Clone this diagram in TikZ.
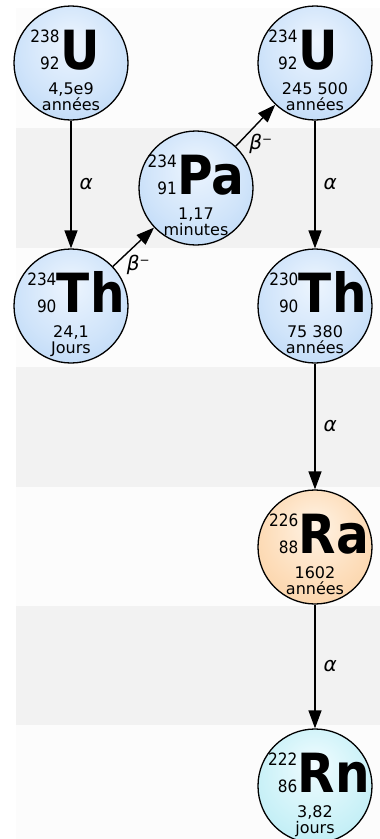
\documentclass[tikz,border=0pt]{standalone}
\usepackage{fontspec}
\setmainfont{DejaVu Sans}
\newfontfamily\condfont{DejaVu Sans Condensed}
\usetikzlibrary{arrows.meta}

% band colours
\definecolor{bandgrey}{HTML}{F2F2F2}
\definecolor{bandlight}{HTML}{FCFCFC}

% ball fills: light centre, saturated rim
\definecolor{bluein}{HTML}{EDF5FE}
\definecolor{bluemid}{HTML}{D0E4FA}
\definecolor{blueout}{HTML}{A2C8F1}
\definecolor{orangein}{HTML}{FFF3E5}
\definecolor{orangemid}{HTML}{FDDDBA}
\definecolor{orangeout}{HTML}{F6C289}
\definecolor{cyanin}{HTML}{F0FCFF}
\definecolor{cyanmid}{HTML}{CDF2F8}
\definecolor{cyanout}{HTML}{A2E2EE}

\pgfdeclareradialshading{ballblue}{\pgfpoint{0bp}{10bp}}{%
  color(0bp)=(bluein); color(22bp)=(bluemid); color(50bp)=(blueout)}
\pgfdeclareradialshading{ballorange}{\pgfpoint{0bp}{10bp}}{%
  color(0bp)=(orangein); color(22bp)=(orangemid); color(50bp)=(orangeout)}
\pgfdeclareradialshading{ballcyan}{\pgfpoint{0bp}{10bp}}{%
  color(0bp)=(cyanin); color(22bp)=(cyanmid); color(50bp)=(cyanout)}

% mass number over atomic number, right aligned, then the element symbol
\newcommand\isotope[3]{%
  {\condfont\fontsize{17}{27}\selectfont\vbox{\halign{\hfil##\cr#1\cr#2\cr}}}%
  \kern0.5pt{\condfont\bfseries\fontsize{54}{54}\selectfont#3}}

\tikzset{
  ball/.style={circle, draw=black, line width=1.3pt, minimum size=114pt, inner sep=0pt},
  blueball/.style={ball, shading=ballblue},
  orangeball/.style={ball, shading=ballorange},
  cyanball/.style={ball, shading=ballcyan},
  life/.style={font=\fontsize{16}{16}\selectfont, inner sep=0pt},
  decay/.style={line width=1.4pt, -{Triangle[length=18pt,width=13pt]}},
  alphalbl/.style={midway, anchor=west, xshift=7pt, inner sep=1pt,
    font=\fontsize{20}{20}\selectfont\itshape},
  betalbl/.style={pos=0.15, anchor=west, xshift=6pt, yshift=-4pt, inner sep=1pt,
    font=\fontsize{20}{20}\selectfont\itshape},
  % horizontal placement of each symbol group inside its ball
  u238 group/.style={xshift=-6pt},
  u234 group/.style={xshift=-12pt},
  th234 group/.style={xshift=5pt},
  th230 group/.style={xshift=3pt},
  ra226 group/.style={xshift=4pt},
  rn222 group/.style={xshift=4pt},
}

% #1 name, #2 x, #3 y, #4 ball style, #5 mass, #6 Z, #7 symbol, #8/#9 half-life lines
\newcommand\nuclide[9]{%
  \node[#4] (#1) at (#2,#3) {};
  \node[anchor=base, inner sep=0pt, #1 group/.try] (#1-sym) at ([yshift=-6pt]#1.center) {\isotope{#5}{#6}{#7}};
  \node[life, anchor=base] (#1-t1) at ([yshift=-31pt]#1.center) {#8};
  \node[life, anchor=base] (#1-t2) at ([yshift=-47pt]#1.center) {#9};
}

\newcommand\betaminus{β\raisebox{0.55ex}{\upshape\fontsize{12}{12}\selectfont −}}

\begin{document}
\begin{tikzpicture}[x=1pt, y=-1pt]
  \useasboundingbox (0,0) rectangle (380,839);
  \fill[white] (0,0) rectangle (380,839);

  % alternating row bands
  \fill[bandlight] (16,8) rectangle (380,128);
  \fill[bandgrey]  (16,128) rectangle (380,248);
  \fill[bandlight] (16,248) rectangle (380,367);
  \fill[bandgrey]  (16,367) rectangle (380,487);
  \fill[bandlight] (16,487) rectangle (380,606);
  \fill[bandgrey]  (16,606) rectangle (380,725);
  \fill[bandlight] (16,725) rectangle (380,839);

  % nuclides
  \nuclide{u238}{71}{63}{blueball}{238}{92}{U}{4,5e9}{années}
  \nuclide{th234}{71}{306}{blueball}{234}{90}{Th}{24,1}{Jours}
  \nuclide{pa234}{196}{188}{blueball}{234}{91}{Pa}{1,17}{minutes}
  \nuclide{u234}{315}{63}{blueball}{234}{92}{U}{245 500}{années}
  \nuclide{th230}{315}{306}{blueball}{230}{90}{Th}{75 380}{années}
  \nuclide{ra226}{315}{547}{orangeball}{226}{88}{Ra}{1602}{années}
  \nuclide{rn222}{315}{786}{cyanball}{222}{86}{Rn}{3,82}{jours}

  % decays
  \draw[decay] (u238) -- node[alphalbl] (a1) {α} (th234);
  \draw[decay] (th234) -- node[betalbl] (b1) {\betaminus} (pa234);
  \draw[decay] (pa234) -- node[betalbl] (b2) {\betaminus} (u234);
  \draw[decay] (u234) -- node[alphalbl] (a2) {α} (th230);
  \draw[decay] (th230) -- node[alphalbl] (a3) {α} (ra226);
  \draw[decay] (ra226) -- node[alphalbl] (a4) {α} (rn222);
\end{tikzpicture}
\end{document}
